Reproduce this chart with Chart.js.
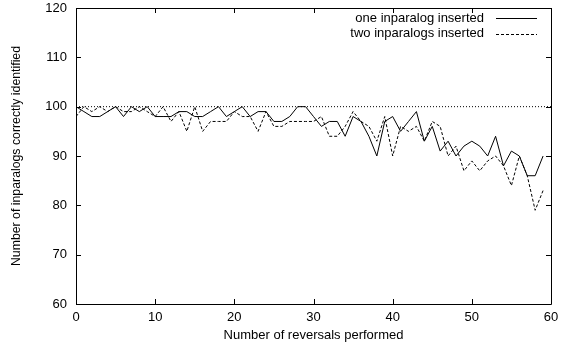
<!DOCTYPE html>
<html>
<head>
<meta charset="utf-8">
<script src="https://cdn.jsdelivr.net/npm/chart.js@4.4.1/dist/chart.umd.min.js"></script>
<style>
  html, body { margin: 0; padding: 0; background: #ffffff; }
  #wrap { width: 562px; height: 344px; }
</style>
</head>
<body>
<div id="wrap"><canvas id="chart"></canvas></div>
<script>
// Reversals performed (x) and inparalogs correctly identified (y)
const reversals = [
  0, 1, 2, 3, 4, 5, 6, 7, 8, 9,
  10, 11, 12, 13, 14, 15, 16, 17, 18, 19,
  20, 21, 22, 23, 24, 25, 26, 27, 28, 29,
  30, 31, 32, 33, 34, 35, 36, 37, 38, 39,
  40, 41, 42, 43, 44, 45, 46, 47, 48, 49,
  50, 51, 52, 53, 54, 55, 56, 57, 58, 59,
];
const oneInserted = [
  100, 99, 98, 98, 99, 100, 98, 100, 99, 100,
  98, 98, 98, 99, 99, 98, 98, 99, 100, 98,
  99, 100, 98, 99, 99, 97, 97, 98, 100, 100,
  98, 96, 97, 97, 94, 98, 97, 94, 90, 97,
  98, 95, 97, 99, 93, 96, 91, 93, 90, 92,
  93, 92, 90, 94, 88, 91, 90, 86, 86, 90,
];
const twoInserted = [
  98, 100, 99, 100, 99, 100, 99, 99, 100, 99,
  98, 100, 97, 99, 95, 100, 95, 97, 97, 97,
  99, 98, 98, 95, 99, 96, 96, 97, 97, 97,
  97, 98, 94, 94, 96, 99, 97, 96, 93, 98,
  90, 96, 95, 96, 93, 97, 96, 90, 92, 87,
  89, 87, 89, 90, 88, 84, 90, 86, 79, 83,
];
const seriesLabels = ["one inparalog inserted", "two inparalogs inserted"];
const referenceLevel = 100;
const referenceSpan = [0, 60];
const xTicks = [0, 10, 20, 30, 40, 50, 60];
const yTicks = [60, 70, 80, 90, 100, 110, 120];
const xTitle = "Number of reversals performed";
const yTitle = "Number of inparalogs correctly identified";

const FONT = "'Liberation Sans', Arial, Helvetica, sans-serif";
const TICK_LEN = 5;

Chart.defaults.font.family = FONT;
Chart.defaults.color = "#000000";

const toPoints = (ys) => ys.map((y, i) => ({ x: reversals[i], y }));

// Box around the plot with gnuplot-style inward ticks on all four sides
const framePlugin = {
  id: "frame",
  afterDatasetsDraw(chart) {
    const { ctx, chartArea: a, scales } = chart;
    ctx.save();
    ctx.strokeStyle = "#000000";
    ctx.lineWidth = 1;
    ctx.setLineDash([]);
    ctx.beginPath();
    ctx.rect(Math.round(a.left) + 0.5, Math.round(a.top) + 0.5,
      Math.round(a.right - a.left), Math.round(a.bottom - a.top));
    xTicks.forEach((v) => {
      const x = Math.round(scales.x.getPixelForValue(v)) + 0.5;
      ctx.moveTo(x, a.bottom);
      ctx.lineTo(x, a.bottom - TICK_LEN);
      ctx.moveTo(x, a.top);
      ctx.lineTo(x, a.top + TICK_LEN);
    });
    yTicks.forEach((v) => {
      const y = Math.round(scales.y.getPixelForValue(v)) + 0.5;
      ctx.moveTo(a.left, y);
      ctx.lineTo(a.left + TICK_LEN, y);
      ctx.moveTo(a.right, y);
      ctx.lineTo(a.right - TICK_LEN, y);
    });
    ctx.stroke();
    ctx.restore();
  },
};

// Legend in the top right corner: right-aligned text, line sample after it
const keyPlugin = {
  id: "key",
  afterDatasetsDraw(chart) {
    const { ctx, chartArea: a } = chart;
    ctx.save();
    ctx.font = "13px " + FONT;
    ctx.fillStyle = "#000000";
    ctx.textAlign = "right";
    ctx.textBaseline = "middle";
    [0, 1].forEach((i) => {
      const ds = chart.data.datasets[i];
      const y = a.top + 10 + i * 15.5;
      ctx.fillText(ds.label, a.right - 67, y);
      ctx.strokeStyle = ds.borderColor;
      ctx.lineWidth = ds.borderWidth;
      ctx.setLineDash(ds.borderDash || []);
      ctx.beginPath();
      ctx.moveTo(a.right - 55, Math.round(y) + 0.5);
      ctx.lineTo(a.right - 14, Math.round(y) + 0.5);
      ctx.stroke();
    });
    ctx.restore();
  },
};

// Drop the automatic label overhang padding so the layout padding alone places the plot
const noOverhang = (s) => {
  s.paddingTop = 0;
  s.paddingBottom = 0;
  s.paddingLeft = 0;
  s.paddingRight = 0;
};

new Chart(document.getElementById("chart"), {
  type: "line",
  data: {
    datasets: [
      {
        label: seriesLabels[0],
        data: toPoints(oneInserted),
        borderColor: "#000000",
        borderWidth: 1,
        pointRadius: 0,
        tension: 0,
      },
      {
        label: seriesLabels[1],
        data: toPoints(twoInserted),
        borderColor: "#000000",
        borderWidth: 1,
        borderDash: [3, 2],
        pointRadius: 0,
        tension: 0,
      },
      {
        label: "reference",
        data: referenceSpan.map((x) => ({ x, y: referenceLevel })),
        borderColor: "#000000",
        borderWidth: 1,
        borderDash: [1, 2],
        pointRadius: 0,
      },
    ],
  },
  options: {
    responsive: true,
    maintainAspectRatio: false,
    animation: false,
    layout: { padding: { top: 8, right: 11, left: 0, bottom: 0 } },
    plugins: {
      legend: { display: false },
      tooltip: { enabled: false },
    },
    scales: {
      x: {
        type: "linear",
        min: xTicks[0],
        max: xTicks[xTicks.length - 1],
        afterBuildTicks: (s) => { s.ticks = xTicks.map((value) => ({ value })); },
        afterFit: (s) => { s.height = 40; noOverhang(s); },
        grid: { display: false, drawTicks: false },
        border: { display: false },
        ticks: { padding: 6, font: { size: 13 }, maxRotation: 0 },
        title: { display: true, text: xTitle, font: { size: 13 }, padding: { top: 0, bottom: 1 } },
      },
      y: {
        min: yTicks[0],
        max: yTicks[yTicks.length - 1],
        afterBuildTicks: (s) => { s.ticks = yTicks.map((value) => ({ value })); },
        afterFit: (s) => { s.width = 76; noOverhang(s); },
        grid: { display: false, drawTicks: false },
        border: { display: false },
        ticks: { padding: 9, font: { size: 13 } },
        title: { display: true, text: yTitle, font: { size: 12.3 }, padding: { top: 9, bottom: 0 } },
      },
    },
  },
  plugins: [framePlugin, keyPlugin],
});
</script>
</body>
</html>
